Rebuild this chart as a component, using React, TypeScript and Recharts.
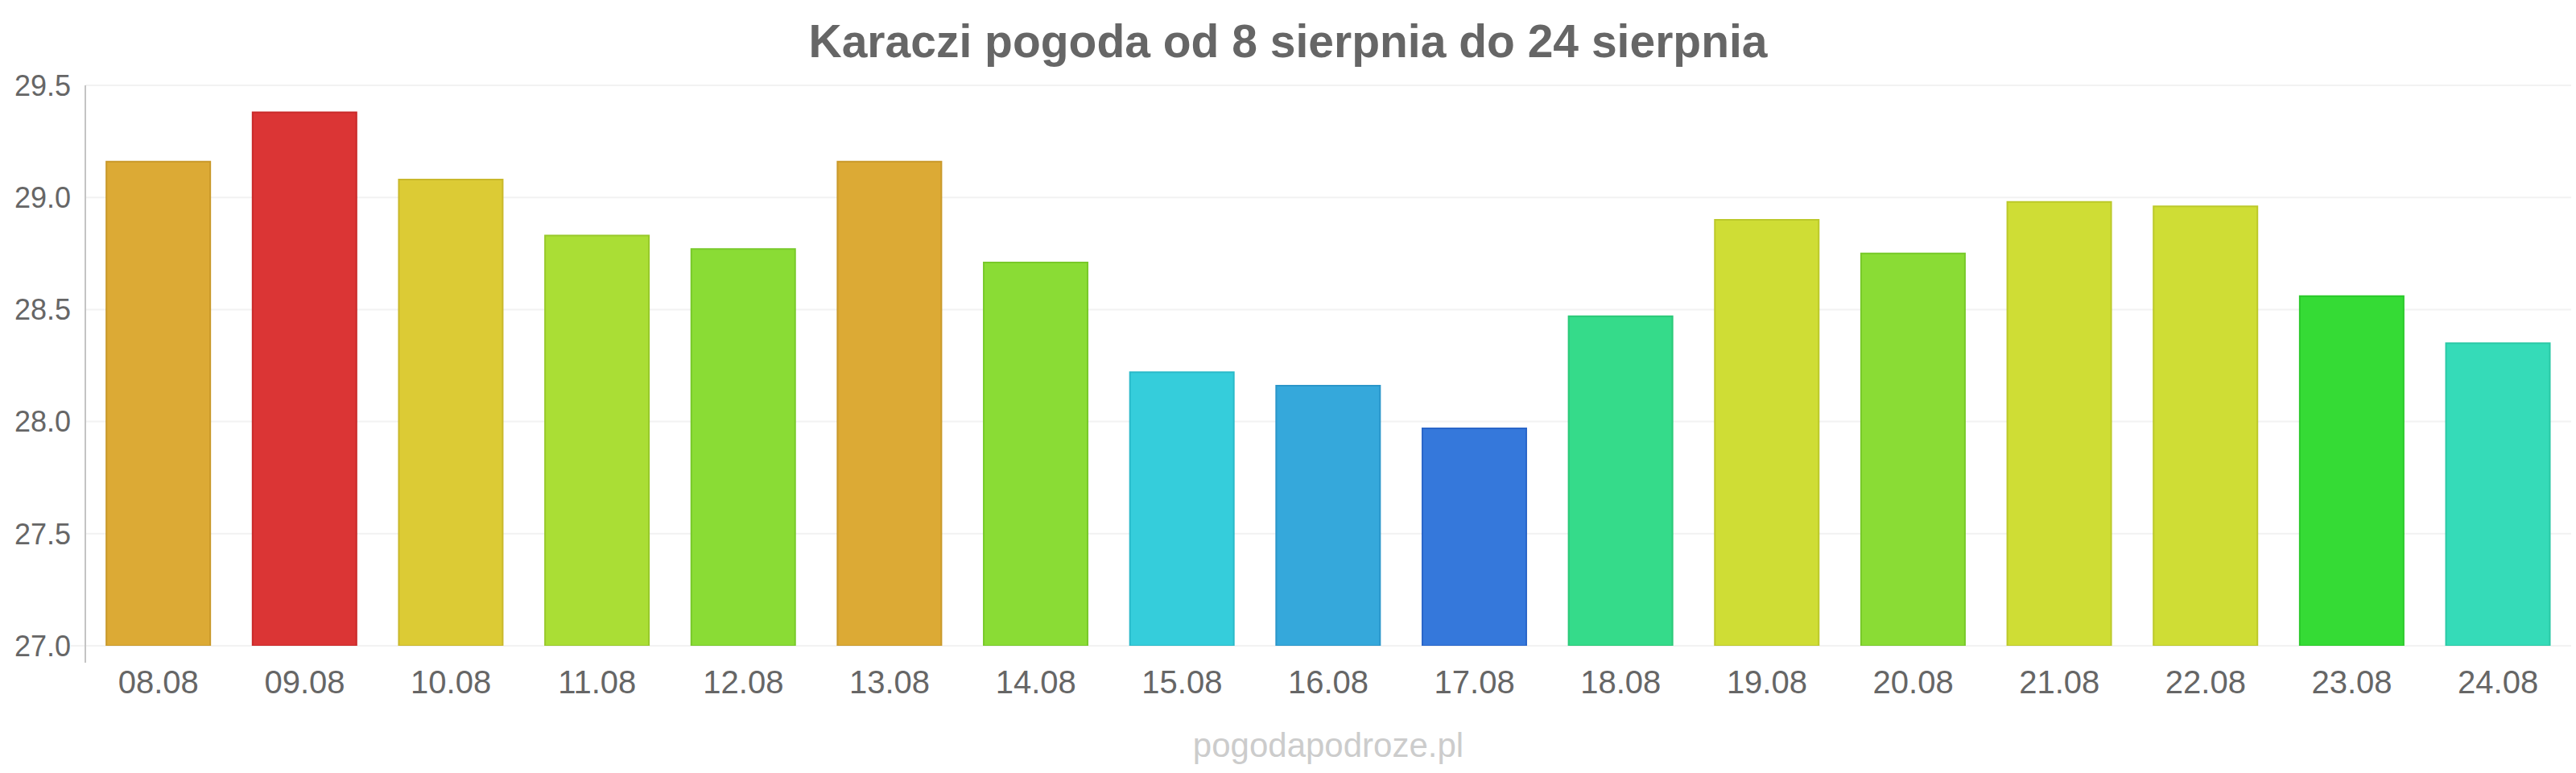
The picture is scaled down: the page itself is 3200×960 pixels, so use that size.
import React from 'react';
import { BarChart, Bar, XAxis, YAxis, CartesianGrid, Cell } from 'recharts';

const days = ['08.08', '09.08', '10.08', '11.08', '12.08', '13.08', '14.08', '15.08', '16.08', '17.08', '18.08', '19.08', '20.08', '21.08', '22.08', '23.08', '24.08'];
const temps = [29.16, 29.38, 29.08, 28.83, 28.77, 29.16, 28.71, 28.22, 28.16, 27.97, 28.47, 28.9, 28.75, 28.98, 28.96, 28.56, 28.35];
const fills = ['#dcaa35', '#db3535', '#dccb35', '#aade35', '#8adc35', '#dcaa35', '#8adc35', '#35cddb', '#35a8db', '#3578db', '#35db8a', '#cfdd35', '#8adc35', '#cfdd35', '#cfdd35', '#35db35', '#35dbb8'];
const strokes = ['#c9992a', '#c92a2a', '#c9b82a', '#98c92a', '#78c92a', '#c9992a', '#78c92a', '#2abac9', '#2a96c9', '#2a66c9', '#2ac978', '#bcc92a', '#78c92a', '#bcc92a', '#bcc92a', '#2ac92a', '#2ac9a6'];
const yTicks = [27, 27.5, 28, 28.5, 29, 29.5];
const title = 'Karaczi pogoda od 8 sierpnia do 24 sierpnia';
const watermark = 'pogodapodroze.pl';

const data = days.map((d, i) => ({ day: d, temp: temps[i] }));

const FONT = '"Liberation Sans", Arial, sans-serif';

export default function App() {
  return (
    <div style={{ position: 'relative', width: 3200, height: 960, fontFamily: FONT, background: '#fff' }}>
      <style>{`body{margin:0;}`}</style>
      <div
        style={{
          position: 'absolute',
          left: 0,
          top: 23,
          width: 3200,
          textAlign: 'center',
          fontSize: 57,
          lineHeight: '57px',
          fontWeight: 'bold',
          color: '#666666',
        }}
      >
        {title}
      </div>
      <BarChart
        width={3200}
        height={960}
        data={data}
        margin={{ top: 106, right: 6, bottom: 0, left: 0 }}
        barCategoryGap="14.4%"
      >
        <CartesianGrid vertical={false} stroke="#f2f2f2" strokeWidth={2} />
        <XAxis
          dataKey="day"
          height={158}
          axisLine={false}
          tickLine={false}
          tickSize={6}
          tickMargin={25}
          interval={0}
          tick={{ fill: '#666666', fontSize: 40, fontFamily: FONT }}
        />
        <YAxis
          width={106}
          domain={[27, 29.5]}
          ticks={yTicks}
          allowDataOverflow
          tickFormatter={(v: number) => v.toFixed(1)}
          axisLine={false}
          tickLine={false}
          tickSize={6}
          tickMargin={12}
          tick={{ fill: '#666666', fontSize: 36, fontFamily: FONT }}
        />
        <Bar dataKey="temp" isAnimationActive={false} strokeWidth={2}>
          {data.map((_, i) => (
            <Cell key={days[i]} fill={fills[i]} stroke={strokes[i]} />
          ))}
        </Bar>
      </BarChart>
      <div
        style={{
          position: 'absolute',
          left: 105,
          top: 106,
          width: 2,
          height: 717,
          background: '#c4c4c4',
        }}
      />
      <div
        style={{
          position: 'absolute',
          left: 88,
          top: 801,
          width: 17,
          height: 2,
          background: '#f2f2f2',
        }}
      />
      <div
        style={{
          position: 'absolute',
          left: 0,
          top: 905,
          width: 3300,
          textAlign: 'center',
          fontSize: 42,
          lineHeight: '42px',
          color: '#cccccc',
        }}
      >
        {watermark}
      </div>
    </div>
  );
}
